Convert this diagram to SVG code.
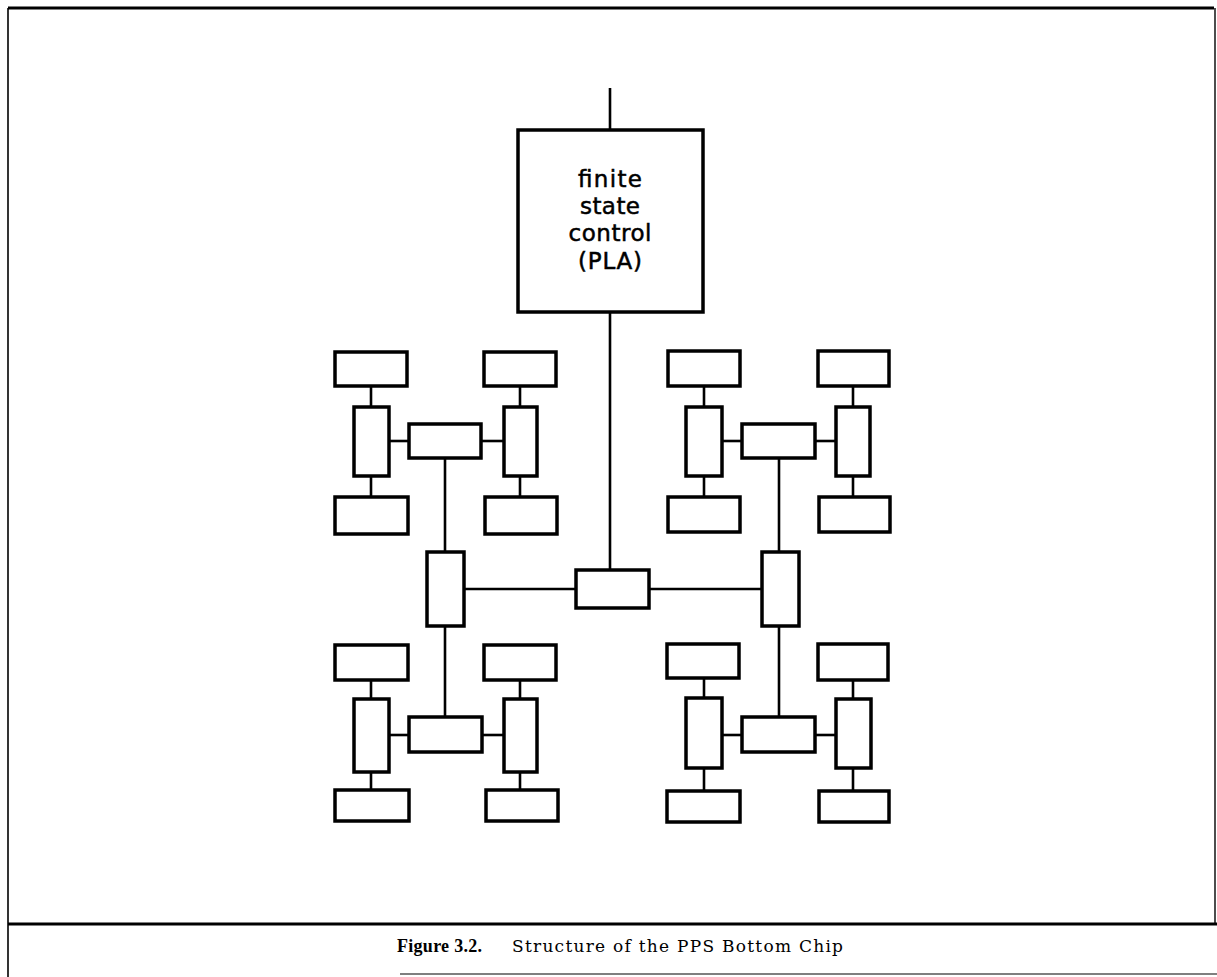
<svg xmlns="http://www.w3.org/2000/svg" width="1217" height="977" viewBox="0 0 1217 977">
<style>
.box{fill:#fff;stroke:#000;stroke-width:3.5}
.ln{stroke:#000;stroke-width:2.6;fill:none}
.pla{font-family:"DejaVu Sans","Liberation Sans",sans-serif;font-size:23px;fill:#000;stroke:#000;stroke-width:0.5;text-anchor:middle}
.cap{font-family:"DejaVu Serif","Liberation Serif",serif;font-size:17px;fill:#000}
</style>
<rect width="1217" height="977" fill="#fff"/>
<g id="frame" fill="none" stroke="#000">
<line x1="8" y1="8" x2="1214" y2="8" stroke-width="2.8"/>
<line x1="8" y1="8" x2="8" y2="977" stroke-width="1.6"/>
<line x1="1215" y1="8" x2="1215" y2="923" stroke-width="1.4"/>
<line x1="8" y1="924" x2="1217" y2="924" stroke-width="3"/>
<line x1="400" y1="974" x2="1217" y2="974" stroke-width="1.2"/>
</g>
<g id="connectors" class="ln">
<line x1="610" y1="88" x2="610" y2="130"/>
<line x1="610" y1="312" x2="610" y2="570"/>
<line x1="464" y1="589" x2="576" y2="589"/>
<line x1="649" y1="589" x2="762" y2="589"/>
<line x1="445" y1="458" x2="445" y2="552"/>
<line x1="445" y1="626" x2="445" y2="717"/>
<line x1="779" y1="459" x2="779" y2="552"/>
<line x1="779" y1="626" x2="779" y2="717"/>
<line x1="371" y1="386" x2="371" y2="407"/><line x1="371" y1="476" x2="371" y2="497"/>
<line x1="520" y1="386" x2="520" y2="407"/><line x1="520" y1="476" x2="520" y2="497"/>
<line x1="389" y1="441" x2="409" y2="441"/><line x1="481" y1="441" x2="504" y2="441"/>
<line x1="704" y1="386" x2="704" y2="407"/><line x1="704" y1="476" x2="704" y2="497"/>
<line x1="853" y1="386" x2="853" y2="407"/><line x1="853" y1="476" x2="853" y2="497"/>
<line x1="722" y1="441" x2="742" y2="441"/><line x1="815" y1="441" x2="836" y2="441"/>
<line x1="371" y1="680" x2="371" y2="699"/><line x1="371" y1="772" x2="371" y2="790"/>
<line x1="520" y1="680" x2="520" y2="699"/><line x1="520" y1="772" x2="520" y2="790"/>
<line x1="389" y1="735" x2="409" y2="735"/><line x1="482" y1="735" x2="504" y2="735"/>
<line x1="704" y1="678" x2="704" y2="698"/><line x1="704" y1="768" x2="704" y2="791"/>
<line x1="853" y1="680" x2="853" y2="699"/><line x1="853" y1="768" x2="853" y2="791"/>
<line x1="722" y1="735" x2="742" y2="735"/><line x1="815" y1="735" x2="836" y2="735"/>
</g>
<g id="pla">
<rect class="box" x="518" y="130" width="185" height="182"/>
<text class="pla" x="610" y="187" textLength="64">finite</text>
<text class="pla" x="610" y="214" textLength="60">state</text>
<text class="pla" x="610" y="241" textLength="83">control</text>
<text class="pla" x="610" y="269" textLength="64">(PLA)</text>
</g>
<g id="center"><rect class="box" x="576" y="570" width="73" height="38"/></g>
<g id="bigL"><rect class="box" x="427" y="552" width="37" height="74"/></g>
<g id="bigR"><rect class="box" x="762" y="552" width="37" height="74"/></g>
<g id="tl">
<rect class="box" x="335" y="352" width="72" height="34"/>
<rect class="box" x="484" y="352" width="72" height="34"/>
<rect class="box" x="354" y="407" width="35" height="69"/>
<rect class="box" x="504" y="407" width="33" height="69"/>
<rect class="box" x="409" y="424" width="72" height="34"/>
<rect class="box" x="335" y="497" width="73" height="37"/>
<rect class="box" x="485" y="497" width="72" height="37"/>
</g>
<g id="tr">
<rect class="box" x="668" y="351" width="72" height="35"/>
<rect class="box" x="818" y="351" width="71" height="35"/>
<rect class="box" x="686" y="407" width="36" height="69"/>
<rect class="box" x="836" y="407" width="34" height="69"/>
<rect class="box" x="742" y="424" width="73" height="34"/>
<rect class="box" x="668" y="497" width="72" height="35"/>
<rect class="box" x="819" y="497" width="71" height="35"/>
</g>
<g id="bl">
<rect class="box" x="335" y="645" width="73" height="35"/>
<rect class="box" x="484" y="645" width="72" height="35"/>
<rect class="box" x="354" y="699" width="35" height="73"/>
<rect class="box" x="504" y="699" width="33" height="73"/>
<rect class="box" x="409" y="717" width="73" height="35"/>
<rect class="box" x="335" y="790" width="74" height="31"/>
<rect class="box" x="486" y="790" width="72" height="31"/>
</g>
<g id="br">
<rect class="box" x="667" y="644" width="72" height="34"/>
<rect class="box" x="818" y="644" width="70" height="36"/>
<rect class="box" x="686" y="698" width="36" height="70"/>
<rect class="box" x="836" y="699" width="35" height="69"/>
<rect class="box" x="742" y="717" width="73" height="35"/>
<rect class="box" x="667" y="791" width="73" height="31"/>
<rect class="box" x="819" y="791" width="70" height="31"/>
</g>
<g id="caption">
<text x="397" y="952" font-family="Liberation Serif, serif" font-size="18" font-weight="bold" textLength="85">Figure 3.2.</text>
<text class="cap" x="512" y="952" textLength="331">Structure of the PPS Bottom Chip</text>
</g>
</svg>
